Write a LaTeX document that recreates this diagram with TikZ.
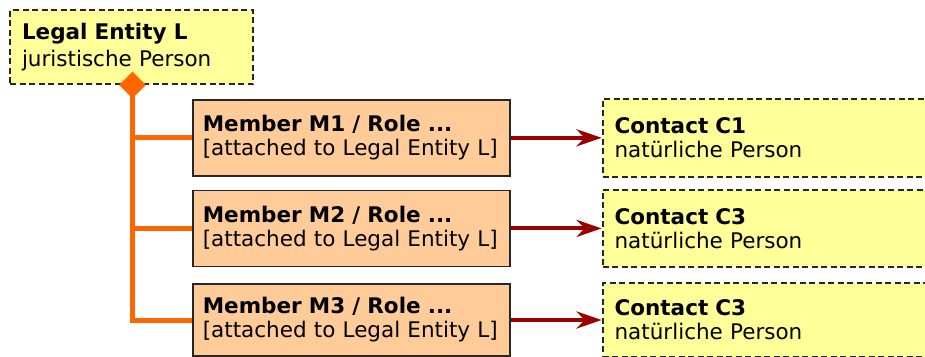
\documentclass[tikz,border=0pt]{standalone}
\usepackage{fontspec}
\setmainfont{DejaVu Sans}
\usetikzlibrary{positioning, arrows.meta, shapes.geometric}
\definecolor{entityfill}{HTML}{FFFF99}
\definecolor{memberfill}{HTML}{FFCC99}
\definecolor{branchorange}{HTML}{FF6600}
\definecolor{linkred}{HTML}{990000}
\tikzset{
x=1pt, y=-1pt, % one unit per pixel, y running down
boxtext/.style={font=\fontsize{21.5}{24}\selectfont, align=left, inner ysep=0pt}, % text inside every box
person/.style={boxtext, draw=black!85, line width=2pt, dash pattern=on 6pt off 3.5pt, fill=entityfill, inner xsep=12pt}, % dashed yellow boxes
contact/.style={person, text width=316pt}, % the contacts on the right
member/.style={boxtext, draw=black!85, line width=1.6pt, fill=memberfill, inner xsep=10pt, text width=297pt, minimum height=76pt}, % solid peach boxes
branch/.style={draw=branchorange, line width=5pt}, % orange tree lines
link/.style={draw=linkred, line width=4pt, -{Stealth[length=25pt, width=17pt, inset=8pt]}}, % red arrows
}
\begin{document}
\begin{tikzpicture}
\clip (0,0) rectangle (925,356);
\node[person, anchor=north west, text width=219pt, minimum height=74pt, font=\fontsize{21.5}{26.5}\selectfont] (legal) at (9,9) {\textbf{Legal Entity L}\\juristische Person};
\node[member, anchor=north west] (m1) at (192,99) {\textbf{Member M1 / Role ...}\\{}[attached to Legal Entity L]};
\node[member, below=13pt of m1] (m2) {\textbf{Member M2 / Role ...}\\{}[attached to Legal Entity L]};
\node[member, below=16pt of m2, minimum height=72pt] (m3) {\textbf{Member M3 / Role ...}\\{}[attached to Legal Entity L]};
\node[contact, right=91pt of m1, minimum height=78pt] (c1) {\textbf{Contact C1}\\natürliche Person};
\node[contact, right=91pt of m2, minimum height=77pt] (c2) {\textbf{Contact C3}\\natürliche Person};
\node[contact, right=91pt of m3, minimum height=74pt] (c3) {\textbf{Contact C3}\\natürliche Person};
\node[diamond, fill=branchorange, inner sep=0pt, minimum size=27pt] (dia) at ([xshift=1pt]legal.south) {};
\draw[branch] (dia.center) |- (m1.west);
\draw[branch] (dia.center) |- (m2.west);
\draw[branch] (dia.center) |- (m3.west);
\draw[link] (m1) -- (c1);
\draw[link] (m2) -- (c2);
\draw[link] (m3) -- (c3);
\end{tikzpicture}
\end{document}
